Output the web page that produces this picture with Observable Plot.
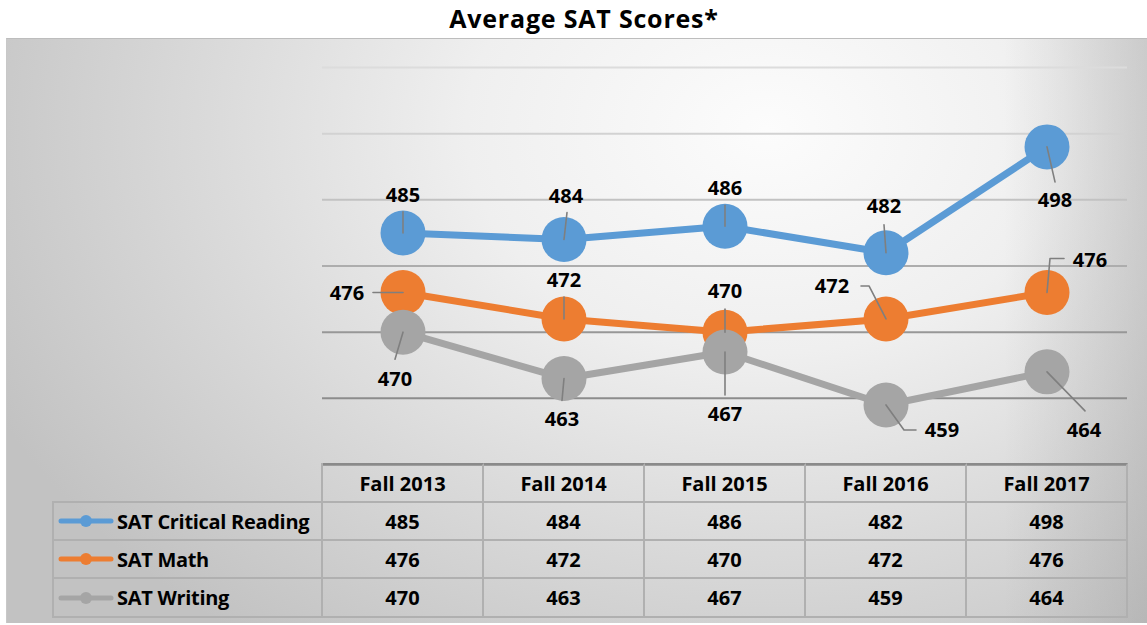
<!DOCTYPE html>
<html>
<head>
<meta charset="utf-8">
<script src="https://cdn.jsdelivr.net/npm/d3@7"></script>
<script src="https://cdn.jsdelivr.net/npm/@observablehq/plot@0.6"></script>
<style>
  body { margin: 0; background: #fff; font-family: "Open Sans", Lato, sans-serif; }
  #wrap { position: relative; width: 1147px; height: 625px; overflow: hidden; }
  #title { position: absolute; left: 0; top: 1px; width: 1168px; text-align: center;
           font-weight: bold; font-size: 25px; letter-spacing: 0.8px; line-height: 34px; color: #000; }
  #bg { position: absolute; left: 6px; top: 38px; width: 1160px; height: 585px;
        border-top: 1px solid #bdbdbd; border-left: 1px solid #c8c8c8; box-sizing: border-box;
        background:
          linear-gradient(to right, rgba(0,0,0,0) 86%, rgba(140,140,140,0.35) 100%),
          radial-gradient(ellipse 860px 640px at 760px 90px, #fcfcfc 0%, #efefef 35%, #dadada 65%, #c2c2c2 100%); }
  #chart { position: absolute; left: 0; top: 38px; }
  #table { position: absolute; left: 52px; top: 463px; display: grid;
           grid-template-columns: 271px repeat(5, 161px);
           grid-template-rows: 40px 38px 38px 39px; }
  #table div { box-sizing: border-box; display: flex; align-items: center; justify-content: center;
               font-weight: bold; font-size: 20px; color: #000; white-space: nowrap; }
  #table .b { border-right: 2px solid #b0b0b0; border-bottom: 2px solid #b0b0b0; }
  #table .h { border-top: 2px solid #8a8a8a; }
  #table .lg { justify-content: flex-start; padding-left: 4px; border-left: 2px solid #b0b0b0; overflow: hidden; }
  #table .lg span { font-size: 20px; letter-spacing: -0.3px; white-space: nowrap; }
  #table .lg svg { margin-right: 3px; flex: none; }
</style>
</head>
<body>
<div id="wrap">
  <div id="title"></div>
  <div id="bg"></div>
  <div id="chart"></div>
  <div id="table"></div>
</div>
<script>
// ---- data ----
const title = "Average SAT Scores*";
const years = ["Fall 2013", "Fall 2014", "Fall 2015", "Fall 2016", "Fall 2017"];
const seriesNames = ["SAT Critical Reading", "SAT Math", "SAT Writing"];
const reading = [485, 484, 486, 482, 498];
const math = [476, 472, 470, 472, 476];
const writing = [470, 463, 467, 459, 464];
const gridValues = [460, 470, 480, 490, 500, 510];
const yMin = 450, yMax = 510;

// ---- style / layout ----
const colors = ["#5B9BD5", "#ED7D31", "#A5A5A5"];
const gridColors = {460: "#8c8c8c", 470: "#979797", 480: "#adadad", 490: "#c2c2c2", 500: "#d2d2d2", 510: "#dcdcdc"};
const W = 1147, H = 585, ML = 322, MR = 20, MT = 29, MB = 159;
const kx = (W - ML - MR) / years.length;       // px per category
const ky = (H - MT - MB) / (yMax - yMin);       // px per score point
// label layout: [text dx, text dy, leader bend points (px, relative to point)]
const labelLayout = [
  [[0,-37,[[0,-21]]], [2,-43,[[3,-27]]], [0,-38,[[0,-21]]], [-2,-46,[[-2,-28]]], [8,54,[[8,35]]]],
  [[-56,1,[[-30,0]]], [0,-38,[[0,-22]]], [0,-41,[[0,-23]]], [-54,-32,[[-17,-33],[-25,-33]]], [43,-32,[[3,-34],[17,-34]]]],
  [[-8,47,[[-8,27]]], [-2,41,[[-2,22]]], [0,63,[[0,43]]], [56,26,[[18,25],[30,25]]], [37,59,[[38,39]]]]
];

const allSeries = [reading, math, writing];
const font = "'Open Sans', Lato, sans-serif";

document.getElementById("title").textContent = title;

const marks = [];
marks.push(Plot.ruleY(gridValues, {y: d => d, stroke: d => gridColors[d], strokeWidth: 2}));
marks.push(Plot.ruleY([yMin], {stroke: "#8a8a8a", strokeWidth: 2.5}));

allSeries.forEach((vals, s) => {
  const pts = vals.map((v, i) => ({i, v}));
  marks.push(Plot.line(pts, {x: "i", y: "v", stroke: colors[s], strokeWidth: 7, strokeLinejoin: "round"}));
  marks.push(Plot.dot(pts, {x: "i", y: "v", r: 22.5, fill: colors[s], stroke: "none"}));
});

const leaders = [], labels = [];
allSeries.forEach((vals, s) => {
  vals.forEach((v, i) => {
    const [tdx, tdy, bends] = labelLayout[s][i];
    const id = s + "-" + i;
    leaders.push({id, x: i, y: v});
    bends.forEach(([bx, by]) => leaders.push({id, x: i + bx / kx, y: v - by / ky}));
    labels.push({x: i + tdx / kx, y: v - tdy / ky, text: String(v)});
  });
});
marks.push(Plot.line(leaders, {x: "x", y: "y", z: "id", stroke: "#7f7f7f", strokeWidth: 1.6}));
marks.push(Plot.text(labels, {x: "x", y: "y", text: "text", fontSize: 20, fontWeight: "bold",
  fontFamily: font, fill: "#000"}));

const chart = Plot.plot({
  width: W, height: H,
  marginLeft: ML, marginRight: MR, marginTop: MT, marginBottom: MB,
  x: {type: "linear", domain: [-0.5, years.length - 0.5], axis: null},
  y: {domain: [yMin, yMax], axis: null},
  style: {background: "transparent", overflow: "visible"},
  marks
});
document.getElementById("chart").appendChild(chart);

// ---- data table ----
const tbl = document.getElementById("table");
function cell(cls, content) {
  const d = document.createElement("div");
  d.className = cls;
  if (typeof content === "string") d.textContent = content; else if (content) d.appendChild(content);
  tbl.appendChild(d);
  return d;
}
const empty = cell("", null);
empty.style.borderRight = "2px solid #b0b0b0";
empty.style.borderBottom = "2px solid #b0b0b0";
years.forEach(y => cell("b h", y));
allSeries.forEach((vals, s) => {
  const c = cell("b lg", null);
  const ns = "http://www.w3.org/2000/svg";
  const svg = document.createElementNS(ns, "svg");
  svg.setAttribute("width", 56); svg.setAttribute("height", 14);
  const ln = document.createElementNS(ns, "line");
  ln.setAttribute("x1", 3); ln.setAttribute("x2", 53); ln.setAttribute("y1", 7); ln.setAttribute("y2", 7);
  ln.setAttribute("stroke", colors[s]); ln.setAttribute("stroke-width", 5); ln.setAttribute("stroke-linecap", "round");
  const ci = document.createElementNS(ns, "circle");
  ci.setAttribute("cx", 28); ci.setAttribute("cy", 7); ci.setAttribute("r", 6); ci.setAttribute("fill", colors[s]);
  svg.appendChild(ln); svg.appendChild(ci);
  c.appendChild(svg);
  const sp = document.createElement("span");
  sp.textContent = seriesNames[s];
  c.appendChild(sp);
  vals.forEach(v => cell("b", String(v)));
});
</script>
</body>
</html>
